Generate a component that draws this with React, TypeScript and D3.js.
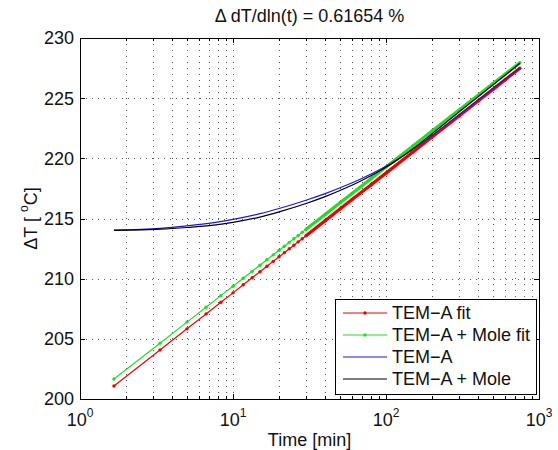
import React, { useEffect, useRef } from 'react';
import * as d3 from 'd3';

// sample times of the fitted curves [min] (markers)
const fitTimes = [1.667, 3.333, 5, 6.667, 8.333, 10, 11.667, 13.333, 15, 16.667, 18.333, 20, 21.667, 23.333, 25, 26.667, 28.333, 30, 40, 50, 60, 80, 100, 150, 200, 300, 400, 500, 600, 750];
const temAFit = [201.08, 204.08, 205.83, 207.07, 208.04, 208.82, 209.49, 210.07, 210.58, 211.03, 211.44, 211.82, 212.16, 212.49, 212.78, 213.06, 213.32, 213.57, 214.81, 215.78, 216.57, 217.81, 218.77, 220.53, 221.77, 223.52, 224.76, 225.73, 226.52, 227.48];
const temAMoleFit = [201.66, 204.64, 206.39, 207.63, 208.59, 209.37, 210.03, 210.61, 211.12, 211.57, 211.98, 212.36, 212.70, 213.02, 213.32, 213.59, 213.85, 214.10, 215.34, 216.30, 217.08, 218.32, 219.28, 221.03, 222.27, 224.01, 225.25, 226.21, 226.99, 227.95];

// measured curves
const measTimes = [1.667, 2.5, 3.333, 5, 7.5, 10, 15, 20, 30, 40, 55, 70, 100, 150, 200, 300, 400, 500, 600, 750];
const temA = [214.04, 214.10, 214.18, 214.38, 214.65, 214.92, 215.40, 215.83, 216.52, 217.07, 217.76, 218.35, 219.34, 220.75, 221.90, 223.62, 224.85, 225.80, 226.58, 227.50];
const temAMole = [214.02, 214.06, 214.11, 214.25, 214.45, 214.68, 215.12, 215.55, 216.25, 216.82, 217.55, 218.18, 219.25, 220.80, 222.05, 223.85, 225.12, 226.10, 226.90, 227.90];

const yTicks = [200, 205, 210, 215, 220, 225, 230];
const xDecades = [1, 10, 100, 1000];
const xExponents = ['0', '1', '2', '3'];
const legendLabels = ['TEM\u2212A fit', 'TEM\u2212A + Mole fit', 'TEM\u2212A', 'TEM\u2212A + Mole'];

const W = 558;
const H = 450;
const FONT = "'Liberation Sans', Arial, sans-serif";

const App = () => {
  const ref = useRef<SVGSVGElement | null>(null);

  useEffect(() => {
    const svg = d3.select(ref.current);
    svg.selectAll('*').remove();

    const left = 80, right = 539, top = 38, bottom = 399;
    const x = d3.scaleLog().domain([1, 1000]).range([left, right]);
    const y = d3.scaleLinear().domain([200, 230]).range([bottom, top]);

    svg.append('rect').attr('width', W).attr('height', H).attr('fill', '#fff');

    // minor x positions (2..9 per decade)
    const xMinor: number[] = [];
    xDecades.slice(0, 3).forEach((d) => {
      for (let k = 2; k <= 9; k++) xMinor.push(k * d);
    });

    const grid = svg.append('g')
      .attr('stroke', '#555')
      .attr('stroke-width', 1)
      .attr('stroke-dasharray', '1,5')
      .attr('fill', 'none');

    [...xMinor, 10, 100].forEach((v) => {
      grid.append('line')
        .attr('x1', Math.round(x(v)) + 0.5).attr('x2', Math.round(x(v)) + 0.5)
        .attr('y1', top).attr('y2', bottom);
    });
    yTicks.slice(1, -1).forEach((v) => {
      grid.append('line')
        .attr('y1', Math.round(y(v)) + 0.5).attr('y2', Math.round(y(v)) + 0.5)
        .attr('x1', left).attr('x2', right);
    });

    // ticks (inward, both sides)
    const ticks = svg.append('g').attr('stroke', '#000').attr('stroke-width', 1);
    xMinor.forEach((v) => {
      const px = Math.round(x(v)) + 0.5;
      ticks.append('line').attr('x1', px).attr('x2', px).attr('y1', bottom).attr('y2', bottom - 3);
      ticks.append('line').attr('x1', px).attr('x2', px).attr('y1', top).attr('y2', top + 3);
    });
    xDecades.forEach((v) => {
      const px = Math.round(x(v)) + 0.5;
      ticks.append('line').attr('x1', px).attr('x2', px).attr('y1', bottom).attr('y2', bottom - 5);
      ticks.append('line').attr('x1', px).attr('x2', px).attr('y1', top).attr('y2', top + 5);
    });
    yTicks.forEach((v) => {
      const py = Math.round(y(v)) + 0.5;
      ticks.append('line').attr('x1', left).attr('x2', left + 5).attr('y1', py).attr('y2', py);
      ticks.append('line').attr('x1', right).attr('x2', right - 5).attr('y1', py).attr('y2', py);
    });

    // data lines
    const plot = svg.append('g');
    const fitLine = d3.line<number>()
      .x((_, i) => x(fitTimes[i]))
      .y((d) => y(d));
    const measLine = d3.line<number>()
      .x((_, i) => x(measTimes[i]))
      .y((d) => y(d))
      .curve(d3.curveMonotoneX);
    const denseFrom = fitTimes.indexOf(30);

    const drawFit = (vals: number[], color: string) => {
      plot.append('path').attr('d', fitLine(vals)).attr('fill', 'none')
        .attr('stroke', color).attr('stroke-width', 1.2);
      // markers merge into a thick band where samples are dense
      const dense = d3.line<number>()
        .x((_, i) => x(fitTimes[i + denseFrom]))
        .y((d) => y(d));
      plot.append('path').attr('d', dense(vals.slice(denseFrom))).attr('fill', 'none')
        .attr('stroke', color).attr('stroke-width', 3.2);
      plot.append('g').selectAll('circle').data(vals).join('circle')
        .attr('cx', (_, i) => x(fitTimes[i]))
        .attr('cy', (d) => y(d))
        .attr('r', 1.7)
        .attr('fill', color);
    };
    drawFit(temAFit, '#ee0000');
    drawFit(temAMoleFit, '#22dd22');
    plot.append('path').attr('d', measLine(temA)).attr('fill', 'none')
      .attr('stroke', '#1a1acc').attr('stroke-width', 1.2);
    plot.append('path').attr('d', measLine(temAMole)).attr('fill', 'none')
      .attr('stroke', '#000').attr('stroke-width', 1.2);

    // axes box
    svg.append('rect')
      .attr('x', left + 0.5).attr('y', top + 0.5)
      .attr('width', right - left).attr('height', bottom - top)
      .attr('fill', 'none').attr('stroke', '#000').attr('stroke-width', 1);

    // tick labels
    const labels = svg.append('g').attr('font-family', FONT).attr('fill', '#111');
    yTicks.forEach((v) => {
      labels.append('text')
        .attr('x', left - 6).attr('y', y(v)).attr('dy', '0.36em')
        .attr('text-anchor', 'end').attr('font-size', 18)
        .text(String(v));
    });
    xDecades.forEach((v, i) => {
      const t = labels.append('text')
        .attr('x', x(v)).attr('y', 426)
        .attr('text-anchor', 'middle').attr('font-size', 18);
      t.append('tspan').text('10');
      t.append('tspan').attr('font-size', 12).attr('dy', -9).text(xExponents[i]);
    });

    // axis titles
    labels.append('text')
      .attr('x', (left + right) / 2).attr('y', 446)
      .attr('text-anchor', 'middle').attr('font-size', 18)
      .text('Time [min]');
    const yl = labels.append('text')
      .attr('transform', `translate(37, ${(top + bottom) / 2}) rotate(-90)`)
      .attr('text-anchor', 'middle').attr('font-size', 18);
    yl.append('tspan').text('\u0394T [ ');
    yl.append('tspan').attr('font-size', 12).attr('dy', -9).text('o');
    yl.append('tspan').attr('dy', 9).text('C]');

    labels.append('text')
      .attr('x', (left + right) / 2).attr('y', 22)
      .attr('text-anchor', 'middle').attr('font-size', 18)
      .text('\u0394 dT/dln(t) = 0.61654 %');

    // legend
    const lg = svg.append('g');
    lg.append('rect')
      .attr('x', 335.5).attr('y', 299.5).attr('width', 201).attr('height', 95)
      .attr('fill', '#fff').attr('stroke', '#000').attr('stroke-width', 1);
    const legendColors = ['#ee0000', '#22dd22', '#1a1acc', '#000'];
    legendLabels.forEach((label, i) => {
      const ly = 313 + i * 22;
      lg.append('line').attr('x1', 343).attr('x2', 387).attr('y1', ly).attr('y2', ly)
        .attr('stroke', legendColors[i]).attr('stroke-width', 1.2);
      if (i < 2) {
        lg.append('circle').attr('cx', 365).attr('cy', ly).attr('r', 1.7).attr('fill', legendColors[i]);
      }
      lg.append('text')
        .attr('x', 392).attr('y', ly).attr('dy', '0.36em')
        .attr('font-family', FONT).attr('font-size', 18).attr('fill', '#111')
        .text(label);
    });
  }, []);

  return (
    <svg
      ref={ref}
      width={W}
      height={H}
      style={{ position: 'absolute', left: 0, top: 0 }}
    />
  );
};

export default App;
